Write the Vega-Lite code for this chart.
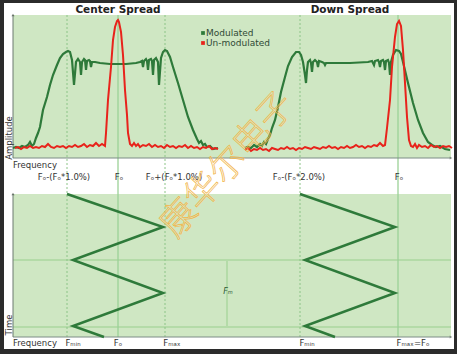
{
"$schema": "https://vega.github.io/schema/vega-lite/v6.json",
"width": 457, "height": 354,
"autosize": {"type": "fit", "contains": "padding"},
"padding": 0,
"background": "#2b2b2b",
"config": {"view": {"stroke": null}},
"encoding": {
  "x": {"field": "f", "type": "quantitative", "scale": {"domain": [-118, 339], "nice": false, "zero": false}, "axis": null},
  "y": {"field": "a", "type": "quantitative", "scale": {"domain": [-196, 158], "nice": false, "zero": false}, "axis": null}
},
"datasets": {
  "panels": [
    {"kind": "frame", "f": -114, "f2": 336, "a": 155, "a2": -191},
    {"kind": "panel", "f": -105, "f2": 333, "a": 143, "a2": 0},
    {"kind": "panel", "f": -105, "f2": 333, "a": -36, "a2": -179}
  ],
  "guides": [
    {"style": "solid", "f": 0, "a": 143, "a2": -179},
    {"style": "solid", "f": 280, "a": 143, "a2": -179},
    {"style": "dotted", "f": -51, "a": 143, "a2": -179},
    {"style": "dotted", "f": 47, "a": 143, "a2": -179},
    {"style": "dotted", "f": 182, "a": 143, "a2": -179}
  ],
  "hbands": [
    {"f": -105, "f2": 333, "a": -102},
    {"f": -105, "f2": 333, "a": -169}
  ],
  "vbands": [
    {"f": 109, "a": -102, "a2": -169}
  ],
  "haxes": [
    {"f": -105, "f2": 333, "a": 0},
    {"f": -105, "f2": 333, "a": -179}
  ],
  "vaxes": [
    {"f": -105, "a": 0, "a2": 143},
    {"f": -105, "a": -179, "a2": -36}
  ],
  "arrowsR": [
    {"f": 333, "a": 0},
    {"f": 333, "a": -179}
  ],
  "arrowsU": [
    {"f": -105, "a": 143},
    {"f": -105, "a": -36}
  ],
  "waveC": [
    {"k": 0, "f": -51, "a": -36},
    {"k": 1, "f": 45, "a": -69},
    {"k": 2, "f": -45, "a": -102},
    {"k": 3, "f": 45, "a": -135},
    {"k": 4, "f": -45, "a": -168},
    {"k": 5, "f": -14, "a": -179}
  ],
  "waveD": [
    {"k": 0, "f": 182, "a": -36},
    {"k": 1, "f": 277, "a": -69},
    {"k": 2, "f": 187, "a": -102},
    {"k": 3, "f": 277, "a": -135},
    {"k": 4, "f": 187, "a": -168},
    {"k": 5, "f": 217, "a": -179}
  ],
  "modC": [
    {"f":-105,"a":10},{"f":-102,"a":11},{"f":-99,"a":10},{"f":-96,"a":12},{"f":-93,"a":11},{"f":-90,"a":13},{"f":-88,"a":16},{"f":-86,"a":12},{"f":-84,"a":14},{"f":-82,"a":20},{"f":-80,"a":25},{"f":-78,"a":31},{"f":-75,"a":48},{"f":-71,"a":61},{"f":-68,"a":73},{"f":-65,"a":83},{"f":-61,"a":93},{"f":-58,"a":100},{"f":-55,"a":104},{"f":-52,"a":106},{"f":-50,"a":107},{"f":-48,"a":106},{"f":-46,"a":98},{"f":-44,"a":73},{"f":-42,"a":96},{"f":-40,"a":99},{"f":-38,"a":96},{"f":-37,"a":83},{"f":-36,"a":96},{"f":-34,"a":99},{"f":-33,"a":98},{"f":-32,"a":88},{"f":-31,"a":97},{"f":-29,"a":98},{"f":-28,"a":97},{"f":-27,"a":91},{"f":-26,"a":96},{"f":-23,"a":96},{"f":-18,"a":95},{"f":-8,"a":94},{"f":0,"a":94},{"f":8,"a":94},{"f":18,"a":95},{"f":22,"a":96},{"f":24,"a":97},{"f":25,"a":91},{"f":26,"a":97},{"f":28,"a":99},{"f":29,"a":97},{"f":30,"a":88},{"f":31,"a":98},{"f":33,"a":99},{"f":34,"a":97},{"f":35,"a":83},{"f":36,"a":98},{"f":38,"a":100},{"f":40,"a":96},{"f":41,"a":73},{"f":43,"a":100},{"f":45,"a":106},{"f":47,"a":108},{"f":49,"a":107},{"f":52,"a":101},{"f":55,"a":91},{"f":60,"a":75},{"f":65,"a":58},{"f":70,"a":41},{"f":75,"a":28},{"f":79,"a":19},{"f":81,"a":15},{"f":83,"a":17},{"f":85,"a":13},{"f":87,"a":14},{"f":89,"a":11},{"f":92,"a":12},{"f":95,"a":9},{"f":100,"a":10}
  ],
  "unmodC": [
    {"f":-103,"a":10},{"f":-100,"a":11},{"f":-97,"a":9},{"f":-94,"a":11},{"f":-91,"a":10},{"f":-88,"a":12},{"f":-85,"a":10},{"f":-82,"a":11},{"f":-79,"a":10},{"f":-76,"a":12},{"f":-73,"a":11},{"f":-70,"a":14},{"f":-67,"a":11},{"f":-64,"a":10},{"f":-61,"a":12},{"f":-58,"a":11},{"f":-55,"a":12},{"f":-52,"a":10},{"f":-49,"a":12},{"f":-46,"a":11},{"f":-43,"a":13},{"f":-40,"a":11},{"f":-37,"a":12},{"f":-34,"a":14},{"f":-31,"a":11},{"f":-28,"a":13},{"f":-25,"a":12},{"f":-22,"a":15},{"f":-19,"a":12},{"f":-16,"a":14},{"f":-13,"a":12},
    {"f":-12,"a":25},{"f":-10,"a":58},{"f":-7,"a":91},{"f":-5,"a":118},{"f":-3,"a":131},{"f":-1,"a":137},{"f":0,"a":138},{"f":1,"a":136},{"f":3,"a":126},{"f":5,"a":103},{"f":7,"a":68},{"f":9,"a":43},{"f":10,"a":25},{"f":12,"a":14},
    {"f":14,"a":12},{"f":16,"a":15},{"f":18,"a":12},{"f":20,"a":14},{"f":22,"a":11},{"f":25,"a":13},{"f":28,"a":12},{"f":31,"a":14},{"f":34,"a":11},{"f":37,"a":13},{"f":40,"a":11},{"f":43,"a":12},{"f":46,"a":10},{"f":49,"a":13},{"f":52,"a":11},{"f":55,"a":12},{"f":58,"a":10},{"f":61,"a":12},{"f":64,"a":11},{"f":67,"a":13},{"f":70,"a":10},{"f":73,"a":12},{"f":76,"a":10},{"f":79,"a":11},{"f":82,"a":9},{"f":85,"a":11},{"f":88,"a":10},{"f":91,"a":12},{"f":94,"a":9},{"f":97,"a":10},{"f":100,"a":9}
  ],
  "modD": [
    {"f":127,"a":10},{"f":130,"a":11},{"f":133,"a":10},{"f":136,"a":13},{"f":139,"a":11},{"f":142,"a":14},{"f":144,"a":12},{"f":146,"a":16},{"f":148,"a":14},{"f":150,"a":19},{"f":152,"a":23},{"f":154,"a":30},{"f":157,"a":38},{"f":160,"a":51},{"f":163,"a":66},{"f":167,"a":81},{"f":170,"a":92},{"f":174,"a":101},{"f":178,"a":106},{"f":181,"a":106},{"f":183,"a":103},{"f":185,"a":96},{"f":187,"a":83},{"f":188,"a":75},{"f":189,"a":88},{"f":190,"a":96},{"f":192,"a":98},{"f":193,"a":95},{"f":194,"a":86},{"f":195,"a":96},{"f":197,"a":98},{"f":199,"a":96},{"f":200,"a":91},{"f":201,"a":97},{"f":204,"a":96},{"f":206,"a":95},{"f":207,"a":93},{"f":208,"a":95},{"f":212,"a":95},{"f":232,"a":95},{"f":250,"a":96},{"f":254,"a":97},{"f":256,"a":93},{"f":257,"a":97},{"f":260,"a":98},{"f":261,"a":96},{"f":262,"a":91},{"f":263,"a":97},{"f":265,"a":98},{"f":266,"a":96},{"f":267,"a":88},{"f":268,"a":97},{"f":270,"a":98},{"f":271,"a":95},{"f":272,"a":83},{"f":273,"a":96},{"f":275,"a":103},{"f":278,"a":108},{"f":281,"a":107},{"f":283,"a":104},{"f":285,"a":96},{"f":290,"a":75},{"f":295,"a":55},{"f":300,"a":38},{"f":305,"a":25},{"f":310,"a":16},{"f":314,"a":13},{"f":318,"a":11},{"f":322,"a":12},{"f":327,"a":9},{"f":332,"a":8}
  ],
  "unmodD": [
    {"f":127,"a":8},{"f":130,"a":10},{"f":133,"a":7},{"f":136,"a":9},{"f":139,"a":8},{"f":142,"a":10},{"f":145,"a":8},{"f":148,"a":9},{"f":151,"a":7},{"f":154,"a":10},{"f":157,"a":9},{"f":160,"a":8},{"f":163,"a":10},{"f":166,"a":9},{"f":169,"a":11},{"f":172,"a":9},{"f":175,"a":10},{"f":178,"a":8},{"f":181,"a":10},{"f":184,"a":9},{"f":187,"a":11},{"f":190,"a":10},{"f":193,"a":9},{"f":196,"a":11},{"f":199,"a":10},{"f":202,"a":9},{"f":205,"a":11},{"f":208,"a":10},{"f":211,"a":12},{"f":214,"a":10},{"f":217,"a":11},{"f":220,"a":9},{"f":223,"a":11},{"f":226,"a":10},{"f":229,"a":12},{"f":232,"a":10},{"f":235,"a":11},{"f":238,"a":13},{"f":241,"a":11},{"f":244,"a":12},{"f":247,"a":10},{"f":250,"a":12},{"f":253,"a":11},{"f":256,"a":13},{"f":259,"a":12},{"f":262,"a":15},{"f":265,"a":12},
    {"f":267,"a":13},{"f":269,"a":30},{"f":272,"a":58},{"f":274,"a":91},{"f":277,"a":121},{"f":279,"a":134},{"f":281,"a":137},{"f":283,"a":132},{"f":285,"a":108},{"f":287,"a":75},{"f":289,"a":41},{"f":291,"a":18},{"f":293,"a":12},
    {"f":295,"a":11},{"f":297,"a":14},{"f":299,"a":10},{"f":301,"a":13},{"f":304,"a":11},{"f":307,"a":12},{"f":310,"a":10},{"f":313,"a":13},{"f":316,"a":11},{"f":319,"a":12},{"f":322,"a":10},{"f":325,"a":12},{"f":328,"a":11},{"f":331,"a":12},{"f":334,"a":10}
  ],
  "legend": [
    {"s": "Modulated", "f": 85, "a": 125},
    {"s": "Un-modulated", "f": 85, "a": 115}
  ],
  "legendText": [
    {"t": "Modulated", "f": 88, "a": 125},
    {"t": "Un-modulated", "f": 88, "a": 115}
  ],
  "titles": [
    {"t": "Center Spread", "f": 0, "a": 148},
    {"t": "Down Spread", "f": 232, "a": 148}
  ],
  "leftText": [
    {"t": "Frequency", "f": -105, "a": -7},
    {"t": "Frequency", "f": -105, "a": -185}
  ],
  "ticks": [
    {"t": "Fₒ-(Fₒ*1.0%)", "f": -54, "a": -19},
    {"t": "Fₒ", "f": 1, "a": -19},
    {"t": "Fₒ+(Fₒ*1.0%)", "f": 56, "a": -19},
    {"t": "Fₒ-(Fₒ*2.0%)", "f": 181, "a": -19},
    {"t": "Fₒ", "f": 281, "a": -19},
    {"t": "Fₘᵢₙ", "f": -45, "a": -185},
    {"t": "Fₒ", "f": 0, "a": -185},
    {"t": "Fₘₐₓ", "f": 54, "a": -185},
    {"t": "Fₘᵢₙ", "f": 189, "a": -185},
    {"t": "Fₘₐₓ=Fₒ", "f": 295, "a": -185}
  ],
  "yTitles": [
    {"t": "Amplitude", "f": -109, "a": 20},
    {"t": "Time", "f": -109, "a": -167}
  ],
  "fm": [
    {"t": "Fₘ", "f": 110, "a": -134}
  ],
  "mark": [
    {"t": "康华尔电子", "f": 110, "a": -7}
  ]
},
"layer": [
  {"data": {"name": "panels"}, "transform": [{"filter": "datum.kind == 'frame'"}], "mark": {"type": "rect", "color": "#ffffff"}, "encoding": {"x2": {"field": "f2"}, "y2": {"field": "a2"}}},
  {"data": {"name": "panels"}, "transform": [{"filter": "datum.kind == 'panel'"}], "mark": {"type": "rect", "color": "#cfe7c3"}, "encoding": {"x2": {"field": "f2"}, "y2": {"field": "a2"}}},
  {"data": {"name": "hbands"}, "mark": {"type": "rule", "color": "#b4dba8", "strokeWidth": 2}, "encoding": {"x2": {"field": "f2"}}},
  {"data": {"name": "vbands"}, "mark": {"type": "rule", "color": "#b4dba8", "strokeWidth": 2}, "encoding": {"y2": {"field": "a2"}}},
  {"data": {"name": "guides"}, "transform": [{"filter": "datum.style == 'solid'"}], "mark": {"type": "rule", "color": "#9bd197", "strokeWidth": 1.3}, "encoding": {"y2": {"field": "a2"}}},
  {"data": {"name": "guides"}, "transform": [{"filter": "datum.style == 'dotted'"}], "mark": {"type": "rule", "color": "#8cc487", "strokeWidth": 1, "strokeDash": [2, 2]}, "encoding": {"y2": {"field": "a2"}}},
  {"data": {"name": "haxes"}, "mark": {"type": "rule", "color": "#7d8c86", "strokeWidth": 1}, "encoding": {"x2": {"field": "f2"}}},
  {"data": {"name": "vaxes"}, "mark": {"type": "rule", "color": "#6d7a70", "strokeWidth": 1}, "encoding": {"y2": {"field": "a2"}}},
  {"data": {"name": "arrowsR"}, "mark": {"type": "point", "shape": "triangle-right", "filled": true, "color": "#6d7a70", "size": 10}},
  {"data": {"name": "arrowsU"}, "mark": {"type": "point", "shape": "triangle-up", "filled": true, "color": "#4d5a50", "size": 10}},
  {"data": {"name": "waveC"}, "mark": {"type": "line", "color": "#2e7a3a", "strokeWidth": 2.5}, "encoding": {"order": {"field": "k"}}},
  {"data": {"name": "waveD"}, "mark": {"type": "line", "color": "#2e7a3a", "strokeWidth": 2.5}, "encoding": {"order": {"field": "k"}}},
  {"data": {"name": "modC"}, "mark": {"type": "line", "color": "#2e7a3a", "strokeWidth": 2.2}, "encoding": {}},
  {"data": {"name": "modD"}, "mark": {"type": "line", "color": "#2e7a3a", "strokeWidth": 2.2}, "encoding": {}},
  {"data": {"name": "unmodC"}, "mark": {"type": "line", "color": "#e8231b", "strokeWidth": 2}, "encoding": {}},
  {"data": {"name": "unmodD"}, "mark": {"type": "line", "color": "#e8231b", "strokeWidth": 2}, "encoding": {}},
  {"data": {"name": "legend"}, "mark": {"type": "point", "shape": "square", "filled": true, "size": 14, "opacity": 1}, "encoding": {"color": {"field": "s", "type": "nominal", "scale": {"domain": ["Modulated", "Un-modulated"], "range": ["#2e7a3a", "#e8231b"]}, "legend": null}}},
  {"data": {"name": "legendText"}, "mark": {"type": "text", "align": "left", "baseline": "middle", "font": "DejaVu Sans", "fontSize": 9, "color": "#2f4a36"}, "encoding": {"text": {"field": "t"}}},
  {"data": {"name": "titles"}, "mark": {"type": "text", "align": "center", "baseline": "middle", "font": "DejaVu Sans", "fontWeight": "bold", "fontSize": 10.5, "color": "#222222"}, "encoding": {"text": {"field": "t"}}},
  {"data": {"name": "leftText"}, "mark": {"type": "text", "align": "left", "baseline": "middle", "font": "DejaVu Sans", "fontSize": 8.5, "color": "#333333"}, "encoding": {"text": {"field": "t"}}},
  {"data": {"name": "ticks"}, "mark": {"type": "text", "align": "center", "baseline": "middle", "font": "DejaVu Sans", "fontSize": 8.5, "color": "#333333"}, "encoding": {"text": {"field": "t"}}},
  {"data": {"name": "yTitles"}, "mark": {"type": "text", "align": "center", "baseline": "middle", "angle": 270, "font": "DejaVu Sans", "fontSize": 8.5, "color": "#333333"}, "encoding": {"text": {"field": "t"}}},
  {"data": {"name": "fm"}, "mark": {"type": "text", "align": "center", "baseline": "middle", "font": "DejaVu Sans", "fontStyle": "italic", "fontSize": 8, "color": "#2e5a36"}, "encoding": {"text": {"field": "t"}}},
  {"data": {"name": "mark"}, "mark": {"type": "text", "align": "center", "baseline": "middle", "angle": 312, "font": "Noto Sans CJK SC", "fontWeight": 300, "fontSize": 36, "fill": "#f6d59a", "fillOpacity": 0.2, "stroke": "#f2b548", "strokeWidth": 0.7}, "encoding": {"text": {"field": "t"}}}
]
}
